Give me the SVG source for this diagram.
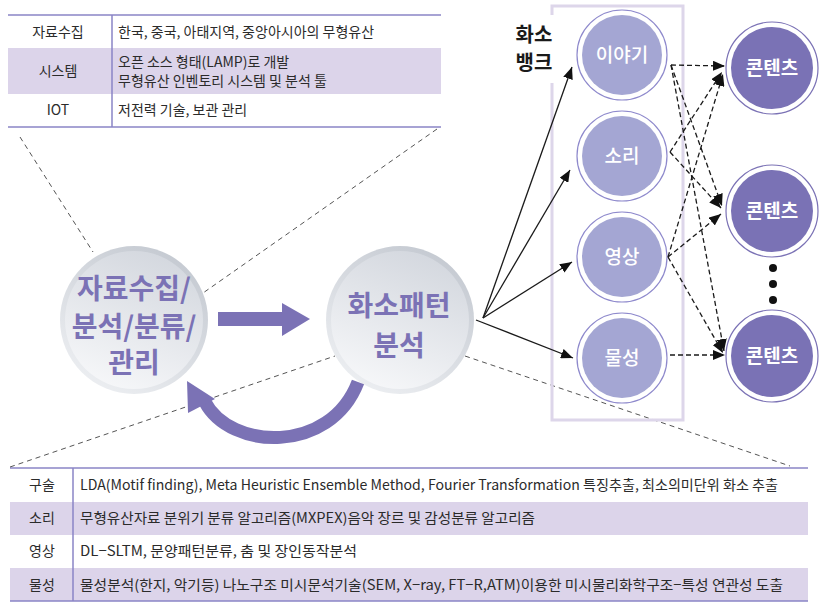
<svg xmlns="http://www.w3.org/2000/svg" width="819" height="603" viewBox="0 0 819 603">
<defs>
<style>
text{font-family:"Noto Sans CJK KR","Noto Sans",sans-serif}
.tt{font-size:14px;fill:#2b2b2b}
.tl{font-size:14px;fill:#2b2b2b;text-anchor:middle}
.big{font-size:28px;font-weight:bold;fill:#7b72b5;text-anchor:middle}
.bank{font-size:19px;fill:#fff;text-anchor:middle;font-weight:500}
.cont{font-size:19px;fill:#fff;text-anchor:middle;font-weight:bold}
.row{fill:#dcd4ea}
.tline{stroke:#8a84c6;stroke-width:1.5;fill:none}
.callout{stroke:#555;stroke-width:1;stroke-dasharray:5 4;fill:none}
.solid{stroke:#1a1a1a;stroke-width:1.3;fill:none;marker-end:url(#ah)}
.dash{stroke:#1a1a1a;stroke-width:1.3;stroke-dasharray:5 3;fill:none;marker-end:url(#ah)}
</style>
<marker id="ah" markerUnits="userSpaceOnUse" markerWidth="12" markerHeight="10" refX="12" refY="5" orient="auto">
<path d="M0,0 L12,5 L0,10 z" fill="#111"/>
</marker>
<linearGradient id="ring" x1="0.8" y1="0" x2="0.2" y2="1">
<stop offset="0" stop-color="#c3c8d0"/>
<stop offset="1" stop-color="#eef0f3"/>
</linearGradient>
<linearGradient id="core" x1="0.7" y1="0" x2="0.3" y2="1">
<stop offset="0" stop-color="#d3d7de"/>
<stop offset="1" stop-color="#f6f7f9"/>
</linearGradient>
</defs>

<!-- top table -->
<g id="top-table">
<rect class="row" x="8" y="48" width="433" height="46"/>
<line class="tline" x1="8" y1="15" x2="441" y2="15"/>
<line class="tline" x1="8" y1="127" x2="441" y2="127"/>
<line class="tline" x1="112" y1="15" x2="112" y2="127"/>
<text class="tl" x="58" y="37">자료수집</text>
<text class="tt" x="118" y="37">한국, 중국, 아태지역, 중앙아시아의 무형유산</text>
<text class="tl" x="58" y="76">시스템</text>
<text class="tt" x="118" y="67">오픈 소스 형태(LAMP)로 개발</text>
<text class="tt" x="118" y="86">무형유산 인벤토리 시스템 및 분석 툴</text>
<text class="tl" x="58" y="115">IOT</text>
<text class="tt" x="118" y="115">저전력 기술, 보관 관리</text>
</g>

<!-- bottom table -->
<g id="bottom-table">
<rect class="row" x="10" y="502" width="798" height="33"/>
<rect class="row" x="10" y="568" width="798" height="33"/>
<line class="tline" x1="10" y1="468" x2="808" y2="468"/>
<line class="tline" x1="10" y1="601" x2="808" y2="601"/>
<line class="tline" x1="73" y1="468" x2="73" y2="601"/>
<text class="tl" x="42" y="490">구술</text>
<text class="tt" x="80" y="490" textLength="698" lengthAdjust="spacingAndGlyphs">LDA(Motif finding), Meta Heuristic Ensemble Method, Fourier Transformation 특징추출, 최소의미단위 화소 추출</text>
<text class="tl" x="42" y="523">소리</text>
<text class="tt" x="80" y="523" textLength="455" lengthAdjust="spacingAndGlyphs">무형유산자료 분위기 분류 알고리즘(MXPEX)음악 장르 및 감성분류 알고리즘</text>
<text class="tl" x="42" y="556">영상</text>
<text class="tt" x="80" y="556" textLength="277" lengthAdjust="spacingAndGlyphs">DL−SLTM, 문양패턴분류, 춤 및 장인동작분석</text>
<text class="tl" x="42" y="590">물성</text>
<text class="tt" x="80" y="590" textLength="703" lengthAdjust="spacingAndGlyphs">물성분석(한지, 악기등) 나노구조 미시문석기술(SEM, X−ray, FT−R,ATM)이용한 미시물리화학구조−특성 연관성 도출</text>
</g>

<!-- callout dashed lines -->
<g id="callouts">
<line class="callout" x1="20" y1="137" x2="93" y2="252"/>
<line class="callout" x1="437" y1="129" x2="203" y2="293"/>
<line class="callout" x1="10" y1="467" x2="335" y2="356"/>
<line class="callout" x1="465" y1="356" x2="790" y2="466"/>
</g>

<!-- bank frame -->
<g id="bank-frame">
<path d="M552 83 V420 H683 V6 H552 V15" fill="none" stroke="#ddd6ea" stroke-width="3"/>
<text x="534" y="42" font-size="20" font-weight="bold" fill="#1a1a1a" text-anchor="middle">화소</text>
<text x="534" y="70" font-size="20" font-weight="bold" fill="#1a1a1a" text-anchor="middle">뱅크</text>
</g>

<!-- main circles -->
<g id="node-collect">
<circle cx="134" cy="320" r="74" fill="url(#ring)"/>
<circle cx="134" cy="320" r="69" fill="url(#core)"/>
<text class="big" x="134" y="299" font-size="22">자료수집/</text>
<text class="big" x="134" y="337" font-size="22">분석/분류/</text>
<text class="big" x="134" y="373" font-size="22">관리</text>
</g>
<g id="node-pattern">
<circle cx="400" cy="320" r="74" fill="url(#ring)"/>
<circle cx="400" cy="320" r="69" fill="url(#core)"/>
<text class="big" x="399" y="316">화소패턴</text>
<text class="big" x="399" y="356">분석</text>
</g>

<!-- bank nodes -->
<g id="node-story">
<circle cx="622" cy="55" r="45" fill="#fff" stroke="#8e89cc" stroke-width="1.2"/>
<circle cx="622" cy="55" r="40" fill="#a4a6d3"/>
<text class="bank" x="622" y="62">이야기</text>
</g>
<g id="node-sound">
<circle cx="622" cy="156" r="45" fill="#fff" stroke="#8e89cc" stroke-width="1.2"/>
<circle cx="622" cy="156" r="40" fill="#a4a6d3"/>
<text class="bank" x="622" y="163">소리</text>
</g>
<g id="node-video">
<circle cx="622" cy="257" r="45" fill="#fff" stroke="#8e89cc" stroke-width="1.2"/>
<circle cx="622" cy="257" r="40" fill="#a4a6d3"/>
<text class="bank" x="622" y="264">영상</text>
</g>
<g id="node-material">
<circle cx="622" cy="358" r="45" fill="#fff" stroke="#8e89cc" stroke-width="1.2"/>
<circle cx="622" cy="358" r="40" fill="#a4a6d3"/>
<text class="bank" x="622" y="365">물성</text>
</g>

<!-- content nodes -->
<g id="node-content1">
<circle cx="772" cy="68" r="46" fill="#fff" stroke="#7b72b5" stroke-width="1.2"/>
<circle cx="772" cy="68" r="41" fill="#7a72b5"/>
<text class="cont" x="772" y="75">콘텐츠</text>
</g>
<g id="node-content2">
<circle cx="772" cy="211" r="46" fill="#fff" stroke="#7b72b5" stroke-width="1.2"/>
<circle cx="772" cy="211" r="41" fill="#7a72b5"/>
<text class="cont" x="772" y="218">콘텐츠</text>
</g>
<g id="node-content3">
<circle cx="772" cy="356" r="46" fill="#fff" stroke="#7b72b5" stroke-width="1.2"/>
<circle cx="772" cy="356" r="41" fill="#7a72b5"/>
<text class="cont" x="772" y="363">콘텐츠</text>
</g>
<g id="ellipsis">
<circle cx="773" cy="268" r="4" fill="#111"/>
<circle cx="773" cy="284" r="4" fill="#111"/>
<circle cx="773" cy="300" r="4" fill="#111"/>
</g>

<!-- connectors -->
<g id="connectors">
<path d="M218 312 H282 V303 L310 319 L282 336 V326 H218 z" fill="#7b72b5"/>
<path d="M358 382 C330 455, 230 450, 205 402" fill="none" stroke="#7b72b5" stroke-width="13"/>
<path d="M187 381 L215 399 L188 413 z" fill="#7b72b5"/>
<line class="solid" x1="483" y1="318" x2="572" y2="67"/>
<line class="solid" x1="483" y1="318" x2="570" y2="170"/>
<line class="solid" x1="483" y1="318" x2="572" y2="262"/>
<line class="solid" x1="476" y1="320" x2="573" y2="358"/>
<line class="dash" x1="671" y1="65" x2="725" y2="66"/>
<line class="dash" x1="671" y1="65" x2="722" y2="206"/>
<line class="dash" x1="671" y1="65" x2="724" y2="351"/>
<line class="dash" x1="670" y1="152" x2="722" y2="72"/>
<line class="dash" x1="670" y1="152" x2="721" y2="208"/>
<line class="dash" x1="668" y1="257" x2="723" y2="74"/>
<line class="dash" x1="668" y1="257" x2="721" y2="214"/>
<line class="dash" x1="668" y1="257" x2="723" y2="353"/>
<line class="dash" x1="670" y1="355" x2="725" y2="355"/>
</g>
</svg>
